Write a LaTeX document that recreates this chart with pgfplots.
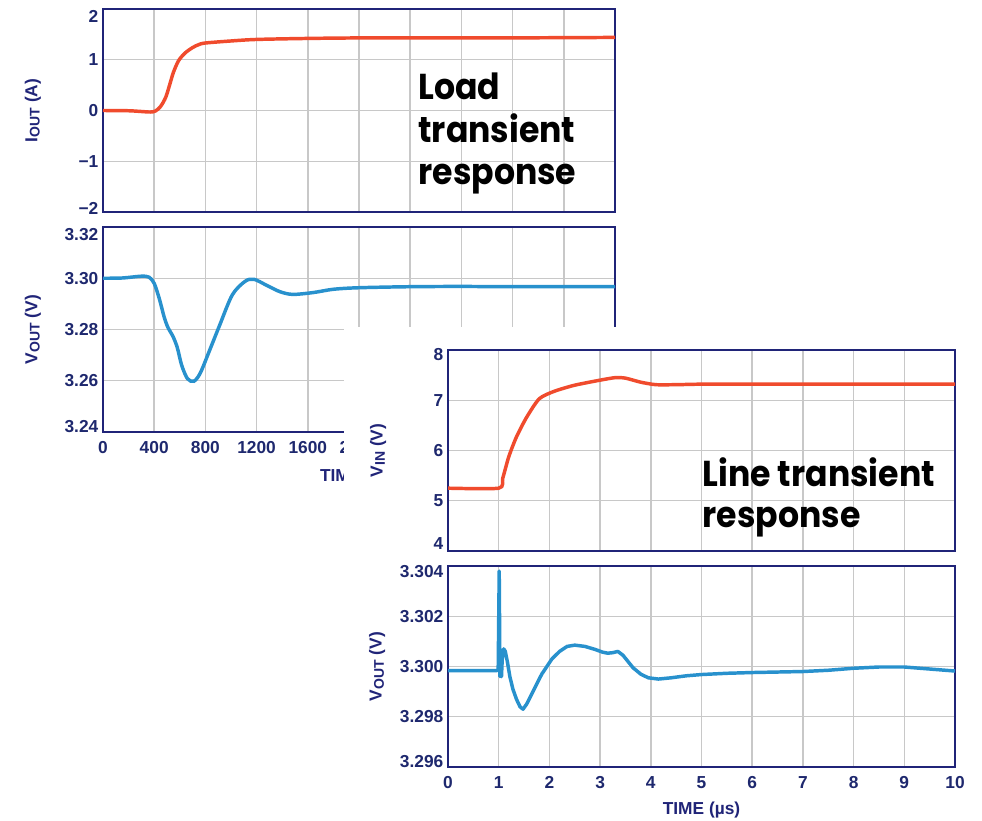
\documentclass[border=0pt]{standalone}
\usepackage{fontspec}
\setmainfont{Liberation Sans}
\newfontfamily\gothic{Poppins}[FakeStretch=0.92]
\usepackage{pgfplots}
\pgfplotsset{compat=1.18}
\definecolor{navy}{RGB}{32,36,120}
\definecolor{tlab}{RGB}{30,40,110}
\definecolor{cred}{RGB}{240,75,45}
\definecolor{cblue}{RGB}{40,145,205}
\definecolor{gridc}{RGB}{200,200,200}
\newcommand{\lfont}{\bfseries\fontsize{13}{15}\selectfont}
\newcommand{\mv}[2]{\raisebox{#1}[\height][\depth]{#2}}
\pgfplotsset{
  myaxis/.style={
    scale only axis,
    axis line style={navy, line width=1.5pt},
    grid=major,
    major grid style={gridc, line width=1.1pt},
    major tick length=0pt,
    tick style={draw=none},
    /pgf/number format/assume math mode=true,
    ticklabel style={font=\lfont, text=tlab},
    xticklabel style={yshift=-3.5pt},
  },
}
\newcommand{\sub}[1]{\raisebox{-0.25ex}{\fontsize{10.5}{12}\selectfont #1}}
\newcommand{\ann}{\gothic\bfseries\fontsize{27}{30}\selectfont}
\begin{document}
\begin{tikzpicture}
\path[use as bounding box] (0,0) rectangle (736.5pt,-615.75pt);
% ---------- Load transient: IOUT ----------
\begin{axis}[myaxis, at={(77.25pt,-6.75pt)}, anchor=north west,
  width=384pt, height=152.25pt,
  xmin=0, xmax=4000, ymin=-2, ymax=2,
  xtick={0,400,...,4000}, xticklabels={},
  ytick={-2,-1,0,1,2}, yticklabels={\mv{3pt}{−2},−1,0,1,\mv{-5.25pt}{2}},
  every axis y label/.style={at={(axis description cs:-0.137,0.5)}, rotate=90, anchor=center, font=\lfont, text=navy},
  ylabel={I\sub{OUT} (A)}]
\addplot[cred, line width=2.6pt, smooth, tension=0.5] coordinates {
 (0,0) (200,-0.005) (300,-0.02) (370,-0.03) (410,-0.01) (450,0.08) (490,0.26)
 (520,0.5) (550,0.75) (590,0.98) (640,1.13) (700,1.24) (750,1.3) (800,1.33)
 (1000,1.37) (1200,1.40) (1600,1.42) (2000,1.43) (2400,1.43) (3000,1.43)
 (3600,1.435) (4000,1.44)};
\node[anchor=base west, font=\ann] at (axis description cs:0.607,0.552) {Load};
\node[anchor=base west, font=\ann] at (axis description cs:0.607,0.340) {transient};
\node[anchor=base west, font=\ann] at (axis description cs:0.607,0.133) {response};
\end{axis}
% ---------- Load transient: VOUT ----------
\begin{axis}[myaxis, at={(77.25pt,-170.25pt)}, anchor=north west,
  width=384pt, height=153.75pt,
  xmin=0, xmax=4000, ymin=3.24, ymax=3.32,
  xtick={0,400,...,4000}, xticklabels={0,400,800,1200,1600,2000,2400,2800,3200,3600,4000},
  ytick={3.24,3.26,3.28,3.30,3.32}, yticklabels={\mv{3.75pt}{3.24},3.26,3.28,3.30,\mv{-6pt}{3.32}},
  every axis y label/.style={at={(axis description cs:-0.137,0.5)}, rotate=90, anchor=center, font=\lfont, text=navy},
  every axis x label/.style={at={(axis description cs:0.5,-0.22)}, anchor=center, font=\lfont, text=navy},
  xlabel={TIME (ns)},
  ylabel={V\sub{OUT} (V)}]
\addplot[cblue, line width=2.6pt, smooth, tension=0.5] coordinates {
 (0,3.300) (150,3.3001) (300,3.3008) (360,3.3004) (400,3.298) (440,3.292)
 (480,3.2845) (510,3.2805) (545,3.2775) (580,3.273) (615,3.266) (660,3.2608)
 (710,3.2598) (760,3.263) (830,3.2715) (910,3.2815) (1010,3.2935) (1110,3.2988)
 (1180,3.2996) (1280,3.2972) (1380,3.2948) (1480,3.2937) (1640,3.2944)
 (1800,3.2957) (2000,3.2963) (2400,3.2967) (2800,3.2968) (3200,3.2967) (4000,3.2967)};
\end{axis}
% ---------- cover ----------
\fill[white] (258pt,-245.25pt) rectangle (736.5pt,-615.75pt);
% ---------- Line transient: VIN ----------
\begin{axis}[myaxis, at={(336pt,-262.5pt)}, anchor=north west,
  width=380.25pt, height=150.75pt,
  xmin=0, xmax=10, ymin=4, ymax=8,
  xtick={0,1,...,10}, xticklabels={},
  ytick={4,5,6,7,8}, yticklabels={\mv{5.25pt}{4},5,6,7,\mv{-3.75pt}{8}},
  every axis y label/.style={at={(axis description cs:-0.138,0.5)}, rotate=90, anchor=center, font=\lfont, text=navy},
  ylabel={V\sub{IN} (V)}]
\addplot[cred, line width=2.6pt, smooth, tension=0.4] coordinates {
 (0,5.25) (1.0,5.25) (1.08,5.45) (1.2,5.88) (1.35,6.27) (1.55,6.66) (1.8,7.03)
 (2.1,7.18) (2.5,7.3) (3.0,7.4) (3.3,7.45) (3.5,7.44) (3.8,7.36) (4.1,7.31)
 (4.5,7.31) (5,7.32) (6,7.32) (10,7.32)};
\node[anchor=base west, font=\ann] at (axis description cs:0.493,0.323) {Line transient};
\node[anchor=base west, font=\ann] at (axis description cs:0.493,0.119) {response};
\end{axis}
% ---------- Line transient: VOUT ----------
\begin{axis}[myaxis, at={(336pt,-424.5pt)}, anchor=north west,
  width=380.25pt, height=150.75pt,
  xmin=0, xmax=10, ymin=3.296, ymax=3.304,
  xtick={0,1,...,10},
  ytick={3.296,3.298,3.300,3.302,3.304}, yticklabels={\mv{3.75pt}{3.296},3.298,3.300,3.302,\mv{-4.5pt}{3.304}},
  every axis y label/.style={at={(axis description cs:-0.14,0.5)}, rotate=90, anchor=center, font=\lfont, text=navy},
  every axis x label/.style={at={(axis description cs:0.5,-0.214)}, anchor=center, font=\lfont, text=navy},
  xlabel={TIME (µs)},
  ylabel={V\sub{OUT} (V)}]
\addplot[cblue, line width=2.6pt, line join=round] coordinates {
 (0,3.29984) (0.5,3.29984) (0.97,3.29984) (0.99,3.2999) (1.01,3.3038) (1.025,3.2996)
 (1.04,3.3004) (1.055,3.2996) (1.07,3.3003) (1.1,3.3007) (1.13,3.3006) (1.17,3.3002)
 (1.22,3.2996) (1.28,3.2991) (1.35,3.2987) (1.42,3.2984) (1.48,3.2983) (1.55,3.2985)
 (1.65,3.2989) (1.75,3.2993) (1.85,3.2997) (1.95,3.3000) (2.05,3.3003) (2.2,3.3006)
 (2.35,3.3008) (2.5,3.30085) (2.7,3.3008) (2.9,3.30068) (3.05,3.30057) (3.15,3.30053)
 (3.25,3.30055) (3.35,3.3006) (3.45,3.30045) (3.55,3.3002) (3.65,3.29995) (3.8,3.2997)
 (3.95,3.29955) (4.15,3.2995) (4.4,3.29955) (4.7,3.29963) (5.0,3.29968) (5.5,3.29973)
 (6.0,3.29976) (7.0,3.2998) (7.5,3.29985) (8.0,3.29993) (8.5,3.29998) (9.0,3.29998)
 (9.5,3.2999) (10,3.29982)};
\end{axis}
\end{tikzpicture}
\end{document}
